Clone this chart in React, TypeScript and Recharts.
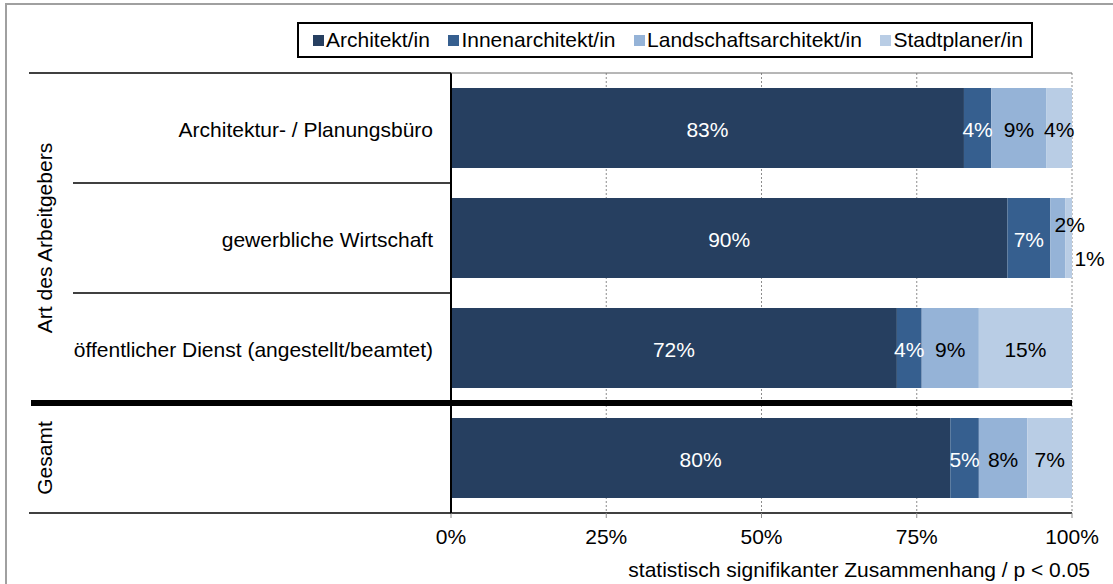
import { BarChart, Bar, XAxis, YAxis, CartesianGrid, Legend, LabelList } from "recharts";

const CATEGORIES = [
  "Architektur- / Planungsbüro",
  "gewerbliche Wirtschaft",
  "öffentlicher Dienst (angestellt/beamtet)",
  "Gesamt",
];
const GROUPS = [
  { label: "Art des Arbeitgebers", size: 3 },
  { label: "Gesamt", size: 1 },
];

const ARCHITEKT = [82.6, 89.6, 71.8, 80.4];
const INNEN = [4.4, 6.9, 4.0, 4.6];
const LANDSCHAFT = [8.9, 2.4, 9.2, 7.8];
const STADT = [4.1, 1.1, 15.0, 7.2];

const X_TICKS = [0, 25, 50, 75, 100];
const X_TITLE = "statistisch signifikanter Zusammenhang / p < 0.05";

const SERIES = [
  { key: "architekt", name: "Architekt/in", color: "#263f60", text: "#ffffff", small: null },
  { key: "innen", name: "Innenarchitekt/in", color: "#365f8f", text: "#ffffff", small: null },
  { key: "landschaft", name: "Landschaftsarchitekt/in", color: "#95b3d7", text: "#000000", small: { dx: 12, dy: -15 } },
  { key: "stadt", name: "Stadtplaner/in", color: "#b9cde5", text: "#000000", small: { dx: 21, dy: 19 } },
];

const data = CATEGORIES.map((name, i) => ({
  name,
  architekt: ARCHITEKT[i],
  innen: INNEN[i],
  landschaft: LANDSCHAFT[i],
  stadt: STADT[i],
}));

const W = 1113;
const H = 584;
const FONT = "'Liberation Sans', Arial, sans-serif";
const FS = 21;
const M = { top: 73, right: 41, bottom: 31, left: 30 };
const Y_W = 421;
const X_H = 40;
const PLOT_LEFT = M.left + Y_W;
const PLOT_RIGHT = W - M.right;
const PLOT_TOP = M.top;
const PLOT_BOTTOM = H - M.bottom - X_H;
const BAND = (PLOT_BOTTOM - PLOT_TOP) / CATEGORIES.length;

function groupStarts() {
  const starts: number[] = [];
  let n = 0;
  GROUPS.forEach((g) => {
    starts.push(n);
    n += g.size;
  });
  return starts;
}

function CategoryTick(props: any) {
  const { y, payload } = props;
  const i = CATEGORIES.indexOf(payload.value);
  const starts = groupStarts();
  const gi = starts.indexOf(i);
  const group = gi >= 0 ? GROUPS[gi] : null;
  const top = y - BAND / 2;
  const bottom = y + BAND / 2;
  const showName = !(group && group.size === 1 && group.label === payload.value);
  const gy = y + ((group ? group.size - 1 : 0) * BAND) / 2;
  return (
    <g>
      {i === 0 && (
        <>
          <line x1={29} x2={PLOT_LEFT} y1={top} y2={top} stroke="#000" strokeWidth={1.5} />
          <line x1={PLOT_LEFT} x2={PLOT_RIGHT} y1={top} y2={top} stroke="#6e6e6e" strokeWidth={1} />
        </>
      )}
      {i > 0 && gi >= 0 && (
        <line x1={31} x2={PLOT_RIGHT} y1={top} y2={top} stroke="#000" strokeWidth={6} />
      )}
      {i > 0 && gi < 0 && (
        <line x1={73} x2={PLOT_LEFT} y1={top} y2={top} stroke="#000" strokeWidth={1.5} />
      )}
      {i === CATEGORIES.length - 1 && (
        <line x1={29} x2={PLOT_LEFT} y1={bottom} y2={bottom} stroke="#000" strokeWidth={1.5} />
      )}
      {showName && (
        <text x={PLOT_LEFT - 18} y={y} dy={1} textAnchor="end" dominantBaseline="central" fontSize={FS} fill="#000" fontFamily={FONT}>
          {payload.value}
        </text>
      )}
      {group && (
        <text
          x={44}
          y={gy}
          transform={`rotate(-90 44 ${gy})`}
          textAnchor="middle"
          dominantBaseline="central"
          fontSize={FS}
          fill="#000"
          fontFamily={FONT}
        >
          {group.label}
        </text>
      )}
    </g>
  );
}

const makeLabel = (s: (typeof SERIES)[number]) => (props: any) => {
  const { value } = props;
  if (value == null) return null;
  const x = Number(props.x);
  const y = Number(props.y);
  const w = Number(props.width);
  const h = Number(props.height);
  let cx = x + w / 2;
  let cy = y + h / 2;
  if (value < 3 && s.small) {
    cx += s.small.dx;
    cy += s.small.dy;
  }
  return (
    <text x={cx} y={cy} dy={1} textAnchor="middle" dominantBaseline="central" fontSize={FS} fill={s.text} fontFamily={FONT}>
      {Math.round(value)}%
    </text>
  );
};

function LegendBox(props: any) {
  const items = props.payload || [];
  return (
    <div
      style={{
        display: "flex",
        alignItems: "center",
        justifyContent: "space-between",
        boxSizing: "border-box",
        width: 736,
        height: 36,
        padding: "0 8px 0 14px",
        border: "2px solid #000",
        background: "#fff",
        fontFamily: FONT,
        fontSize: FS,
        color: "#000",
        whiteSpace: "nowrap",
      }}
    >
      {items.map((p: any) => (
        <span key={p.value} style={{ display: "flex", alignItems: "center" }}>
          <span style={{ width: 11, height: 11, background: p.color, marginRight: 2, display: "inline-block" }} />
          {p.value}
        </span>
      ))}
    </div>
  );
}

function AxisTitle() {
  return (
    <text x={1090} y={577} textAnchor="end" fontSize={FS} fill="#000" fontFamily={FONT}>
      {X_TITLE}
    </text>
  );
}

export default function App() {
  return (
    <div style={{ position: "absolute", left: 0, top: 0, width: W, height: H, background: "#fff", overflow: "hidden" }}>
      <div
        style={{
          position: "absolute",
          left: 5,
          top: 3,
          width: 1300,
          height: 800,
          borderLeft: "2px solid #a0a0a0",
          borderTop: "2px solid #a0a0a0",
        }}
      />
      <BarChart
        width={W}
        height={H}
        data={data}
        layout="vertical"
        margin={M}
        barCategoryGap={15}
        style={{ position: "absolute", left: 0, top: 0, fontFamily: FONT }}
      >
        <CartesianGrid horizontal={false} vertical stroke="#8c8c8c" strokeDasharray="2 2" />
        <XAxis
          type="number"
          domain={[0, 100]}
          ticks={X_TICKS}
          tickFormatter={(v) => `${v}%`}
          height={X_H}
          axisLine={{ stroke: "#000", strokeWidth: 1.5 }}
          tickLine={{ stroke: "#8c8c8c" }}
          tickSize={5}
          tickMargin={11}
          tick={{ fontSize: FS, fill: "#000", fontFamily: FONT }}
          label={<AxisTitle />}
        />
        <YAxis
          type="category"
          dataKey="name"
          width={Y_W}
          axisLine={{ stroke: "#000", strokeWidth: 2 }}
          tickLine={false}
          tick={<CategoryTick />}
          interval={0}
        />
        <Legend
          layout="vertical"
          align="center"
          verticalAlign="middle"
          wrapperStyle={{ top: 22, left: 297, width: "auto", height: "auto" }}
          content={<LegendBox />}
        />
        {SERIES.map((s) => (
          <Bar key={s.key} dataKey={s.key} name={s.name} stackId="a" fill={s.color} isAnimationActive={false}>
            <LabelList dataKey={s.key} content={makeLabel(s)} />
          </Bar>
        ))}
      </BarChart>
    </div>
  );
}
